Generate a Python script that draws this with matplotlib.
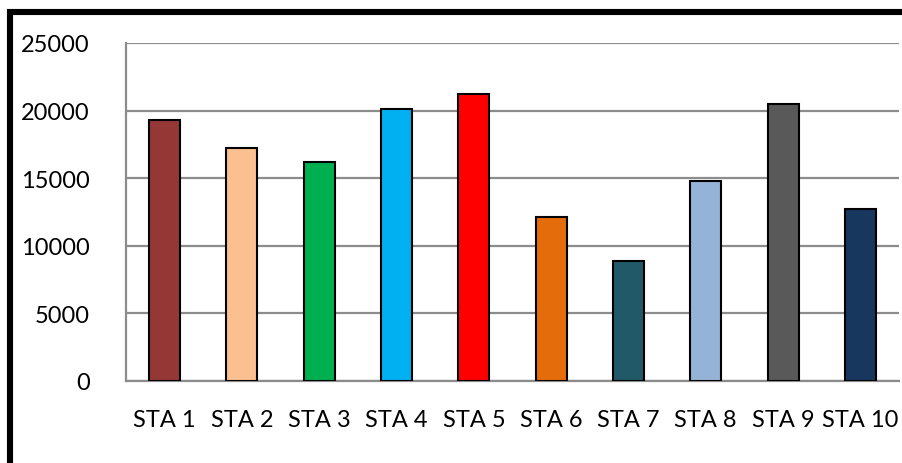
import matplotlib
matplotlib.use("Agg")
import matplotlib.pyplot as plt
from matplotlib.patches import Rectangle

stations = ["STA 1", "STA 2", "STA 3", "STA 4", "STA 5",
            "STA 6", "STA 7", "STA 8", "STA 9", "STA 10"]
values = [19300, 17200, 16200, 20100, 21200, 12100, 8850, 14800, 20500, 12700]
colors = ["#953735", "#FAC090", "#00B050", "#00B0F0", "#FF0000",
          "#E46C0A", "#215968", "#95B3D7", "#595959", "#17375E"]
y_ticks = [0, 5000, 10000, 15000, 20000, 25000]

plt.rcParams["font.family"] = ["Lato", "DejaVu Sans"]

fig = plt.figure(figsize=(9.03, 4.64), dpi=100)
ax = fig.add_axes([126 / 903, 1 - 382 / 464, (899 - 126) / 903, (382 - 44) / 464])

x = list(range(len(stations)))
ax.bar(x, values, width=0.4, color=colors, edgecolor="black", linewidth=1.5, zorder=3)

ax.set_xlim(-0.5, len(stations) - 0.5)
ax.set_ylim(0, 25000)
ax.set_yticks(y_ticks)
ax.set_yticklabels([str(v) for v in y_ticks])
ax.set_xticks(x)
ax.set_xticklabels(stations)

ax.yaxis.grid(True, color="#8c8c8c", linewidth=1.6, zorder=0)
ax.tick_params(axis="both", length=0, labelsize=17, colors="black")
ax.tick_params(axis="y", pad=26)
ax.tick_params(axis="x", pad=20)

for side in ["top", "right"]:
    ax.spines[side].set_visible(False)
for side in ["left", "bottom"]:
    ax.spines[side].set_color("#8c8c8c")
    ax.spines[side].set_linewidth(1.6)

# Heavy black frame around the chart area
frame = Rectangle((10 / 903, -0.2), 1.2, 1 - 13 / 464 + 0.2,
                  transform=fig.transFigure, fill=False,
                  edgecolor="black", linewidth=4.4, clip_on=False)
fig.patches.append(frame)

fig.savefig("out.png", dpi=100)
